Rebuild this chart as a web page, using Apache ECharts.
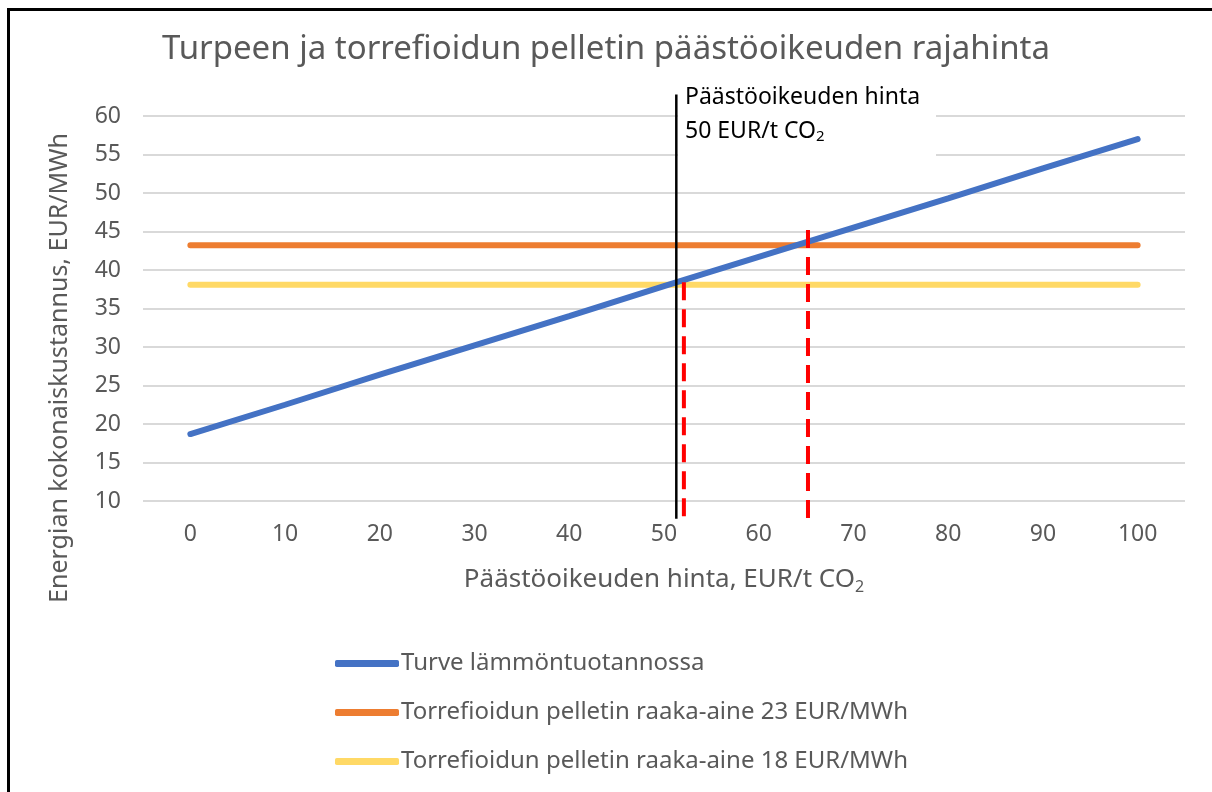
<!DOCTYPE html>
<html>
<head>
<meta charset="utf-8">
<script src="https://cdn.jsdelivr.net/npm/echarts@6/dist/echarts.min.js"></script>
<style>
  html, body { margin: 0; padding: 0; background: #fff; }
  #frame { position: absolute; left: 7px; top: 8px; width: 1300px; height: 900px;
           border-left: 3px solid #000; border-top: 3px solid #000; }
  #chart { position: absolute; left: 0; top: 0; width: 1212px; height: 792px; }
</style>
</head>
<body>
<div id="frame"></div>
<div id="chart"></div>
<script>
// päästöoikeuden hinta (EUR/t CO2)
const prices = [0, 10, 20, 30, 40, 50, 60, 70, 80, 90, 100];
// energian kokonaiskustannus (EUR/MWh)
const peat = [18.7, 22.5, 26.4, 30.2, 34.0, 37.9, 41.7, 45.5, 49.3, 53.2, 57.0];
const pellet23 = [43.2, 43.2, 43.2, 43.2, 43.2, 43.2, 43.2, 43.2, 43.2, 43.2, 43.2];
const pellet18 = [38.1, 38.1, 38.1, 38.1, 38.1, 38.1, 38.1, 38.1, 38.1, 38.1, 38.1];
const seriesNames = [
  "Turve lämmöntuotannossa",
  "Torrefioidun pelletin raaka-aine 23 EUR/MWh",
  "Torrefioidun pelletin raaka-aine 18 EUR/MWh"
];
// apuviivat
const priceLine = [[51.3, 62.8], [51.3, 7.7]];
const breakEven18 = [[52.1, 38.4], [52.1, 7.5]];
const breakEven23 = [[65.2, 45.2], [65.2, 7.8]];
const xTicks = [0, 10, 20, 30, 40, 50, 60, 70, 80, 90, 100];

const font = "Noto Sans";
const grey = "#595959";

let chart = echarts.init(document.getElementById("chart"));

function pairs(ys) {
  return prices.map((x, i) => [x, ys[i]]);
}

let option = {
  animation: false,
  textStyle: { fontFamily: font },
  title: {
    text: "Turpeen ja torrefioidun pelletin päästöoikeuden rajahinta",
    left: "center",
    top: 28,
    textStyle: { fontFamily: font, fontSize: 33, fontWeight: "normal", color: grey }
  },
  grid: { left: 143, right: 27, top: 116, bottom: 291 },
  xAxis: {
    type: "value",
    min: -5,
    max: 105,
    axisLine: { show: false },
    axisTick: { show: false },
    splitLine: { show: false },
    axisLabel: {
      customValues: xTicks,
      color: grey,
      fontSize: 23,
      margin: 22
    }
  },
  yAxis: {
    type: "value",
    min: 10,
    max: 60,
    interval: 5,
    axisLine: { show: false },
    axisTick: { show: false },
    splitLine: { lineStyle: { color: "#d9d9d9", width: 2 } },
    axisLabel: { color: grey, fontSize: 23, margin: 22 }
  },
  legend: {
    orient: "vertical",
    left: 330,
    top: 646,
    itemWidth: 64,
    itemHeight: 7,
    itemGap: 24,
    icon: "roundRect",
    data: seriesNames,
    textStyle: { color: grey, fontSize: 24, lineHeight: 25, fontFamily: font, padding: [0, 0, 0, -3] }
  },
  graphic: [
    {
      type: "text",
      rotation: Math.PI / 2,
      x: 60,
      y: 368,
      style: {
        text: "Energian kokonaiskustannus, EUR/MWh",
        fill: grey,
        align: "center",
        verticalAlign: "middle",
        font: "25px 'Noto Sans'"
      }
    },
    {
      type: "text",
      x: 664,
      y: 580,
      style: {
        text: "{a|Päästöoikeuden hinta, EUR/t CO}{s|2}",
        align: "center",
        verticalAlign: "middle",
        rich: {
          a: { fill: grey, fontSize: 26, fontFamily: font },
          s: { fill: grey, fontSize: 16, fontFamily: font, padding: [14, 0, 0, 0] }
        }
      }
    },
    {
      type: "rect",
      shape: { x: 678, y: 84, width: 258, height: 73 },
      style: { fill: "#fff" },
      z: 50
    },
    {
      type: "text",
      x: 685,
      y: 80,
      z: 51,
      style: {
        text: "{a|Päästöoikeuden hinta}\n{a|50 EUR/t CO}{s|2}",
        rich: {
          a: { fill: "#000", fontSize: 23, fontFamily: font, lineHeight: 34 },
          s: { fill: "#000", fontSize: 15, fontFamily: font, lineHeight: 34, padding: [12, 0, 0, 0] }
        }
      }
    }
  ],
  series: [
    {
      name: seriesNames[0],
      type: "line",
      data: pairs(peat),
      showSymbol: false,
      lineStyle: { color: "#4472C4", width: 6, cap: "round" },
      itemStyle: { color: "#4472C4" },
      z: 3
    },
    {
      name: seriesNames[1],
      type: "line",
      data: pairs(pellet23),
      showSymbol: false,
      lineStyle: { color: "#ED7D31", width: 6, cap: "round" },
      itemStyle: { color: "#ED7D31" },
      z: 2
    },
    {
      name: seriesNames[2],
      type: "line",
      data: pairs(pellet18),
      showSymbol: false,
      lineStyle: { color: "#FFD966", width: 6, cap: "round" },
      itemStyle: { color: "#FFD966" },
      z: 2
    },
    {
      type: "line",
      data: priceLine,
      showSymbol: false,
      clip: false,
      silent: true,
      lineStyle: { color: "#000", width: 2.5 },
      z: 4
    },
    {
      type: "line",
      data: breakEven18,
      showSymbol: false,
      clip: false,
      silent: true,
      lineStyle: { color: "#ff0000", width: 4, type: [18, 9] },
      z: 5
    },
    {
      type: "line",
      data: breakEven23,
      showSymbol: false,
      clip: false,
      silent: true,
      lineStyle: { color: "#ff0000", width: 4, type: [18, 9] },
      z: 5
    }
  ]
};

chart.setOption(option);
window.addEventListener("resize", function() {
  chart.resize();
});
</script>
</body>
</html>
